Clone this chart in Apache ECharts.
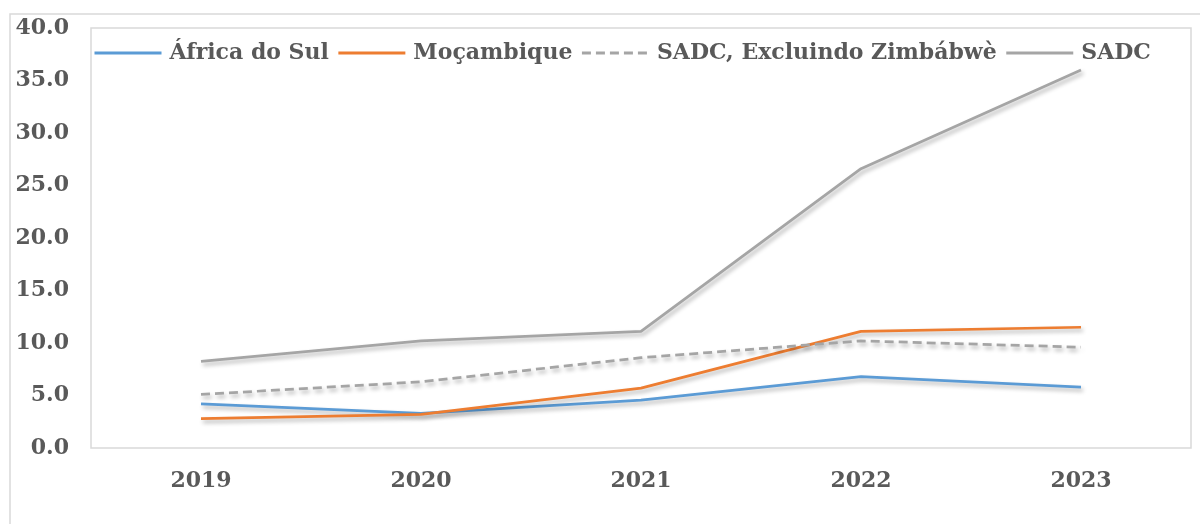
<!DOCTYPE html>
<html><head><meta charset="utf-8">
<script src="https://cdn.jsdelivr.net/npm/echarts@6/dist/echarts.min.js"></script>
<style>html,body{margin:0;padding:0;background:#fff}#c{width:1200px;height:524px}</style>
</head><body><div id="c"></div>
<script>
const categories = ['2019', '2020', '2021', '2022', '2023'];
const seriesNames = ['África do Sul', 'Moçambique', 'SADC, Excluindo Zimbábwè', 'SADC'];
const africaDoSul = [4.2, 3.3, 4.55, 6.8, 5.8];
const mocambique = [2.8, 3.2, 5.7, 11.1, 11.5];
const sadcExclZim = [5.1, 6.3, 8.6, 10.2, 9.6];
const sadc = [8.25, 10.2, 11.1, 26.6, 36.0];

const font = 'DejaVu Serif';
const txt = '#595959';
const shadow = {shadowColor:'rgba(0,0,0,0.3)', shadowBlur:4, shadowOffsetX:2, shadowOffsetY:3};
function mk(name, data, color, type){
  return {name, type:'line', data, symbol:'none', showSymbol:false, smooth:false,
    lineStyle:Object.assign({color, width:2.75, type:type||'solid'}, shadow),
    itemStyle:{color}};
}
const chart = echarts.init(document.getElementById('c'), null, {renderer:'canvas'});
chart.setOption({
  animation:false,
  graphic:[{type:'rect', shape:{x:10, y:14, width:1200, height:530}, style:{fill:'none', stroke:'#d9d9d9', lineWidth:1.5}, silent:true}],
  grid:{left:91, right:9, top:28, bottom:76, show:true, borderColor:'#d9d9d9', borderWidth:1.5, containLabel:false},
  legend:{top:37, left:88, icon:'inherit', itemWidth:67, itemHeight:14, itemGap:8,
    itemStyle:{opacity:0},
    lineStyle:{width:3, shadowBlur:0, shadowOffsetX:0, shadowOffsetY:0},
    textStyle:{fontFamily:font, fontWeight:'bold', fontSize:22, color:txt, padding:[0,0,0,3]},
    data:seriesNames},
  xAxis:{type:'category', data:categories, boundaryGap:true,
    axisLine:{show:false}, axisTick:{show:false},
    axisLabel:{fontFamily:font, fontWeight:'bold', fontSize:22, color:txt, margin:22}},
  yAxis:{type:'value', min:0, max:40, interval:5,
    axisLine:{show:false}, axisTick:{show:false}, splitLine:{show:false},
    axisLabel:{fontFamily:font, fontWeight:'bold', fontSize:22, color:txt, margin:22,
      formatter:v=>v.toFixed(1)}},
  series:[
    mk(seriesNames[0], africaDoSul, '#5B9BD5'),
    mk(seriesNames[1], mocambique, '#ED7D31'),
    mk(seriesNames[2], sadcExclZim, '#A5A5A5', [9,5]),
    mk(seriesNames[3], sadc, '#A5A5A5')
  ]
});
</script></body></html>
